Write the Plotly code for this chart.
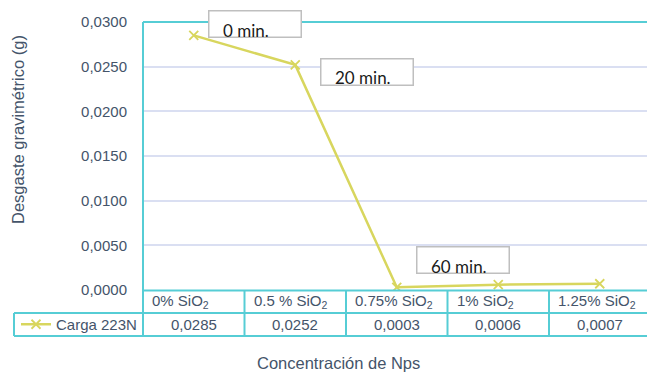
import plotly.graph_objects as go

# Data
categorias = ["0% SiO<sub>2</sub>", "0.5 % SiO<sub>2</sub>", "0.75% SiO<sub>2</sub>",
              "1% SiO<sub>2</sub>", "1.25% SiO<sub>2</sub>"]
carga_223n = [0.0285, 0.0252, 0.0003, 0.0006, 0.0007]
serie_nombre = "Carga 223N"
y_ticks = [0.0, 0.005, 0.010, 0.015, 0.020, 0.025, 0.030]
etiquetas_tiempo = [(0, "0 min."), (1, "20 min."), (2, "60 min.")]

W, H = 647, 374
TEXT = "#44546A"
CYAN = "#56CDD5"
GRID = "#DADFF2"
LINE = "#D8D65E"
FONT = "Liberation Sans, Arial, sans-serif"

# plot-area geometry (pixels)
PX_LEFT, PX_TOP, PX_BOTTOM = 143, 22, 290
CAT_W = 101.5
ROW1_B, ROW2_B = 313, 336


def py(pix):
    return 1 - pix / H


def px(pix):
    return pix / W


x_idx = list(range(len(categorias)))
x_max = -0.5 + (W - PX_LEFT) / CAT_W

fig = go.Figure()
fig.add_trace(go.Scatter(
    x=x_idx, y=carga_223n, mode="lines+markers", name=serie_nombre,
    line=dict(color=LINE, width=2.5),
    marker=dict(symbol="x-thin", size=9, line=dict(color=LINE, width=1.8), color=LINE),
    showlegend=True,
))

shapes = []
# top border of plot area
shapes.append(dict(type="line", xref="paper", yref="paper", x0=px(PX_LEFT), x1=1,
                   y0=py(PX_TOP), y1=py(PX_TOP), line=dict(color=CYAN, width=2)))
# left axis line through the table
shapes.append(dict(type="line", xref="paper", yref="paper", x0=px(PX_LEFT), x1=px(PX_LEFT),
                   y0=py(PX_TOP), y1=py(ROW2_B), line=dict(color=CYAN, width=2)))
# table horizontal rules
shapes.append(dict(type="line", xref="paper", yref="paper", x0=px(PX_LEFT), x1=1,
                   y0=py(PX_BOTTOM + 0.5), y1=py(PX_BOTTOM + 0.5), line=dict(color=CYAN, width=2)))
for yy in (ROW1_B, ROW2_B):
    shapes.append(dict(type="line", xref="paper", yref="paper", x0=px(14), x1=1,
                       y0=py(yy), y1=py(yy), line=dict(color=CYAN, width=2)))
# legend cell left edge
shapes.append(dict(type="line", xref="paper", yref="paper", x0=px(14), x1=px(14),
                   y0=py(ROW1_B), y1=py(ROW2_B), line=dict(color=CYAN, width=2)))
# category separators
for i in x_idx[:-1]:
    shapes.append(dict(type="line", xref="x", yref="paper", x0=i + 0.5, x1=i + 0.5,
                       y0=py(PX_BOTTOM), y1=py(ROW2_B), line=dict(color=CYAN, width=2)))

annotations = []
# category row and value row of the data table
for i, (cat, val) in enumerate(zip(categorias, carga_223n)):
    annotations.append(dict(x=i - 0.5, xref="x", xanchor="left", xshift=7,
                            y=py((PX_BOTTOM + ROW1_B) / 2), yref="paper", yanchor="middle",
                            text=cat, showarrow=False, font=dict(family=FONT, size=15, color=TEXT)))
    annotations.append(dict(x=i, xref="x", xanchor="center",
                            y=py((ROW1_B + ROW2_B) / 2), yref="paper", yanchor="middle",
                            text=f"{val:.4f}".replace(".", ","), showarrow=False,
                            font=dict(family=FONT, size=15, color=TEXT)))

# time labels: a bordered box plus left-aligned text, anchored to their data points
offsets = {0: (14, 11), 1: (25, -7), 2: (19, 27)}
for i, txt in etiquetas_tiempo:
    dx, dy = offsets[i]
    annotations.append(dict(x=i, y=carga_223n[i], xref="x", yref="y", xanchor="left",
                            yanchor="middle", xshift=dx, yshift=dy, text="&nbsp;",
                            width=91, height=25, borderpad=0, borderwidth=1.5,
                            bordercolor="#BFBFBF", bgcolor="white", showarrow=False,
                            font=dict(size=10)))
    annotations.append(dict(x=i, y=carga_223n[i], xref="x", yref="y", xanchor="left",
                            yanchor="middle", xshift=dx + 13, yshift=dy - 6, text=txt,
                            showarrow=False, font=dict(family="Lato, Carlito, sans-serif",
                                                      size=17, color="#1a1a1a")))

# axis titles
annotations.append(dict(x=px(18), y=py(130), xref="paper", yref="paper", textangle=-90,
                        xanchor="center", yanchor="middle",
                        text="Desgaste gravimétrico (g)", showarrow=False,
                        font=dict(family=FONT, size=16.5, color=TEXT)))
annotations.append(dict(x=px(338), y=py(363), xref="paper", yref="paper",
                        xanchor="center", yanchor="middle",
                        text="Concentración de Nps", showarrow=False,
                        font=dict(family=FONT, size=16.5, color=TEXT)))

fig.update_layout(
    width=W, height=H, margin=dict(l=0, r=0, t=0, b=0, pad=0), autosize=False,
    paper_bgcolor="white", plot_bgcolor="white", separators=",.",
    xaxis=dict(domain=[px(PX_LEFT), 1], range=[-0.5, x_max], showticklabels=False,
               showgrid=False, zeroline=False, showline=False, fixedrange=True,
               automargin=False),
    yaxis=dict(domain=[py(PX_BOTTOM), py(PX_TOP)], range=[0, 0.03], tickvals=y_ticks,
               tickformat=".4f", showgrid=True, gridcolor=GRID, gridwidth=1.5,
               zeroline=False, showline=False, ticks="outside", ticklen=0,
               ticklabelstandoff=12, automargin=False,
               tickfont=dict(family=FONT, size=15, color=TEXT)),
    legend=dict(x=px(16), y=py((ROW1_B + ROW2_B) / 2), xanchor="left", yanchor="middle",
                bgcolor="rgba(0,0,0,0)", font=dict(family=FONT, size=15, color=TEXT),
                itemwidth=30, borderwidth=0, tracegroupgap=0),
    shapes=shapes, annotations=annotations,
)

fig.write_html("out.html")
